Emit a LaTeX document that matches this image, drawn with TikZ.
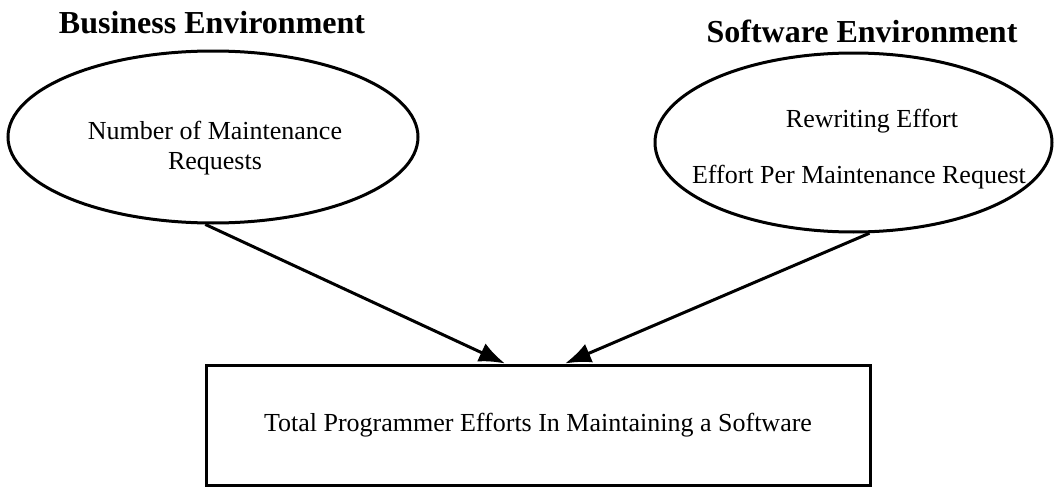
\documentclass[tikz,border=0pt]{standalone}
\usepackage{fontspec}
\setmainfont{Liberation Serif}
\usepackage{tikz}
\usetikzlibrary{positioning,shapes.geometric,arrows.meta}

\tikzset{
  envshape/.style={ellipse, draw, line width=1.5pt, inner sep=0pt},
  envtitle/.style={font=\fontsize{16}{19}\selectfont\bfseries, inner sep=0pt, anchor=base},
  envtext/.style={font=\fontsize{13}{15}\selectfont, inner sep=0pt, align=center},
  resultbox/.style={rectangle, draw, line width=1.5pt, minimum width=332pt, minimum height=60pt, font=\fontsize{13}{15}\selectfont},
  flow/.style={line width=1.5pt, -{Latex[length=13pt,width=10pt]}}
}

\begin{document}
\begin{tikzpicture}[x=0.5pt, y=-0.5pt]
        \useasboundingbox (0,0) rectangle (1057,487);

        % Ambienti
        \node[envtitle] (bizTitle) at (212,33) {Business Environment};
        \node[envshape, minimum width=205pt, minimum height=86pt] (biz) at (213,137) {};
        \node[envtext] (bizText) at (215,148) {Number of Maintenance\\Requests};

        \node[envtitle] (swTitle) at (862,42) {Software Environment};
        \node[envshape, minimum width=198.5pt, minimum height=89.5pt] (sw) at (853.5,142.5) {};
        \node[envtext, anchor=base] (swRewrite) at (872,127) {Rewriting Effort};
        \node[envtext, anchor=base] (swPerReq) at (859,183) {Effort Per Maintenance Request};

        % Risultato
        \node[resultbox] (total) at (538,425) {Total Programmer Efforts In Maintaining a Software};

        % Collegamenti
        \draw[flow] (biz.265) -- ([xshift=-16.5pt]total.north);
        \draw[flow] (sw.-80) -- ([xshift=13.5pt]total.north);
    \end{tikzpicture}
\end{document}
